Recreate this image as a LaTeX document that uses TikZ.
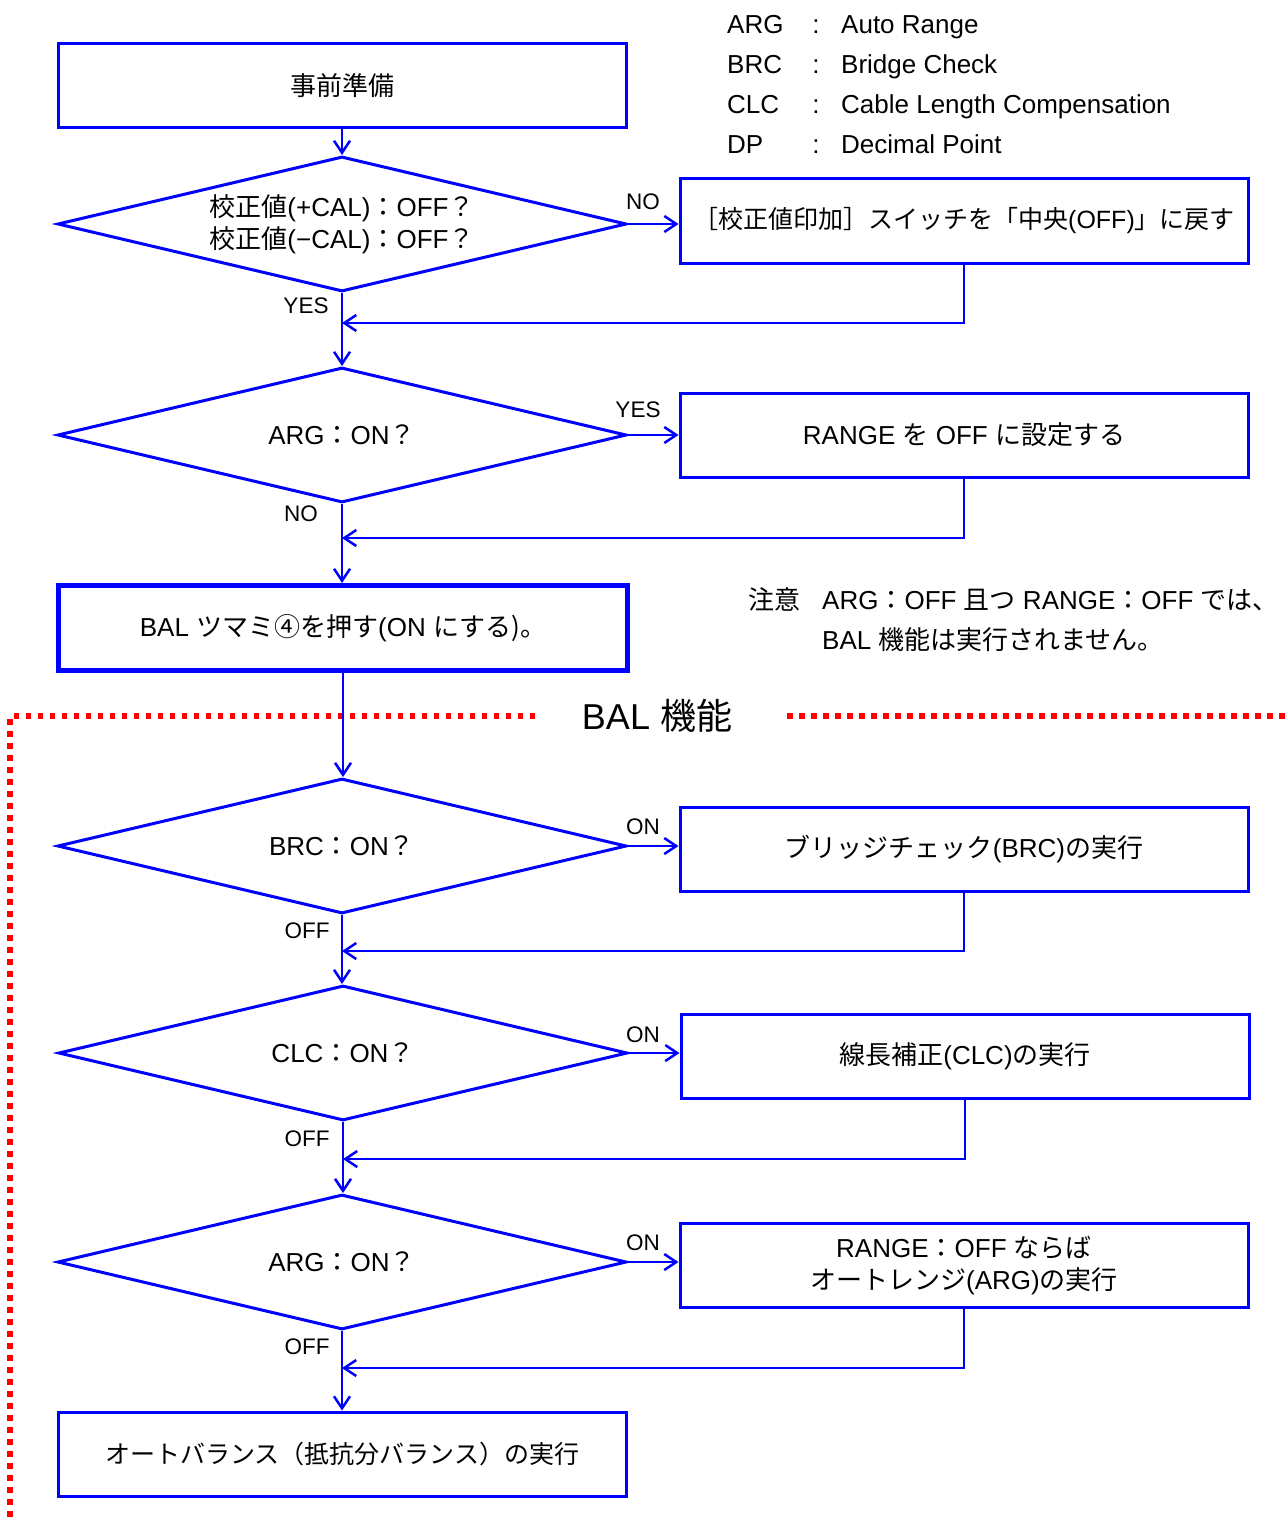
\documentclass[tikz,border=0pt]{standalone}
\usepackage{fontspec}
\setmainfont{Liberation Sans}
\newfontfamily\jpfont{Noto Sans CJK JP}
\newcommand\jp[1]{{\jpfont #1}}
\usetikzlibrary{positioning, arrows.meta, shapes.geometric, calc}

\begin{document}
\begin{tikzpicture}[
  x=1pt, y=-1pt,
  >={Straight Barb[length=12pt, width=16pt, line width=2.5pt]},
  every node/.style={font=\fontsize{26}{32}\selectfont, inner sep=0pt},
  box/.style    = {draw=blue, line width=3pt, minimum width=568pt, minimum height=84pt, align=center},
  balbox/.style = {box, line width=5pt, minimum width=569pt, minimum height=85pt},
  dia/.style    = {diamond, aspect=4.21, draw=blue, line width=3pt, minimum width=569pt, minimum height=135pt, align=center},
  arr/.style    = {->, blue, line width=2.5pt},
  lbl/.style    = {font=\fontsize{22.5}{27}\selectfont},
  redline/.style= {red, line width=5.5pt, dash pattern=on 5.5pt off 6.5pt},
]
  \useasboundingbox (0,0) rectangle (1285,1517);
  % Legend, top right.
  \foreach \ab/\full [count=\i from 0] in {ARG/Auto Range, BRC/Bridge Check,
                                           CLC/Cable Length Compensation, DP/Decimal Point}{
    \node[anchor=base west] (abbr\i) at (727,{33.5+40*\i}) {\ab};
    \node[anchor=base]      (sep\i)  at (816,{33.5+40*\i}) {:};
    \node[anchor=base west] (full\i) at (841,{33.5+40*\i}) {\full};
  }
  % BAL function frame.
  \draw[redline] (535,716) -- (10,716) -- (10,1517);
  \draw[redline] (787,716) -- (1285,716);
  \node[font=\fontsize{36}{40}\selectfont] (baltitle) at (657,716) {BAL \jp{機能}};
  % Main column.
  \node[box]    (pre) at (342,86)   {\jp{事前準備}};
  \node[dia]    (q1)  at (342,224)  {\jp{校正値}(+CAL)\jp{：}OFF\jp{？}\\\jp{校正値}(−CAL)\jp{：}OFF\jp{？}};
  \node[dia]    (q2)  at (342,435)  {ARG\jp{：}ON\jp{？}};
  \node[balbox] (bal) at (343,628)  {BAL \jp{ツマミ④を押す}(ON \jp{にする)。}};
  \node[dia]    (q3)  at (342,846)  {BRC\jp{：}ON\jp{？}};
  \node[dia]    (q4)  at (343,1053) {CLC\jp{：}ON\jp{？}};
  \node[dia]    (q5)  at (342,1262) {ARG\jp{：}ON\jp{？}};
  \node[box, font=\fontsize{25}{30}\selectfont] (ab) at (342,1454)
        {\jp{オートバランス（抵抗分バランス）の実行}};
  % Side column.
  \node[box, font=\fontsize{25}{30}\selectfont] (fix) at (964,221)
        {\jp{［校正値印加］スイッチを「中央}(OFF)\jp{」に戻す}};
  \node[box] (rng) at (964,435)  {RANGE \jp{を} OFF \jp{に設定する}};
  \node[box] (brc) at (964,849)  {\jp{ブリッジチェック}(BRC)\jp{の実行}};
  \node[box] (clc) at (965,1056) {\jp{線長補正}(CLC)\jp{の実行}};
  \node[box] (arg) at (964,1265) {RANGE\jp{：}OFF \jp{ならば}\\\jp{オートレンジ}(ARG)\jp{の実行}};
  % Merge points.
  \coordinate (m1) at (342,323);
  \coordinate (m2) at (342,538);
  \coordinate (m3) at (342,951);
  \coordinate (m4) at (343,1159);
  \coordinate (m5) at (342,1368);
  \foreach \a/\b in {pre/q1, q1/q2, q2/bal, bal/q3, q3/q4, q4/q5, q5/ab}
     \draw[arr] (\a.south) -- (\a.south |- \b.north);
  \foreach \a/\b in {q1/fix, q2/rng, q3/brc, q4/clc, q5/arg}
     \draw[arr] (\a.east) -- (\a.east -| \b.west);
  \foreach \b/\m in {fix/m1, rng/m2, brc/m3, clc/m4, arg/m5}
     \draw[arr] (\b.south) |- (\m);
  % Branch labels.
  \node[lbl] (no1)  at (643,202)  {NO};
  \node[lbl] (yes1) at (306,306)  {YES};
  \node[lbl] (yes2) at (638,410)  {YES};
  \node[lbl] (no2)  at (301,514)  {NO};
  \node[lbl] (on3)  at (643,827)  {ON};
  \node[lbl] (off3) at (307,931)  {OFF};
  \node[lbl] (on4)  at (643,1035) {ON};
  \node[lbl] (off4) at (307,1139) {OFF};
  \node[lbl] (on5)  at (643,1243) {ON};
  \node[lbl] (off5) at (307,1347) {OFF};
  % Note.
  \node[anchor=base west] (notehd) at (748,609.5) {\jp{注意}};
  \node[anchor=base west] (note1)  at (822,609.5) {ARG\jp{：}OFF \jp{且つ} RANGE\jp{：}OFF \jp{では、}};
  \node[anchor=base west] (note2)  at (822,649.5) {BAL \jp{機能は実行されません。}};
\end{tikzpicture}
\end{document}
